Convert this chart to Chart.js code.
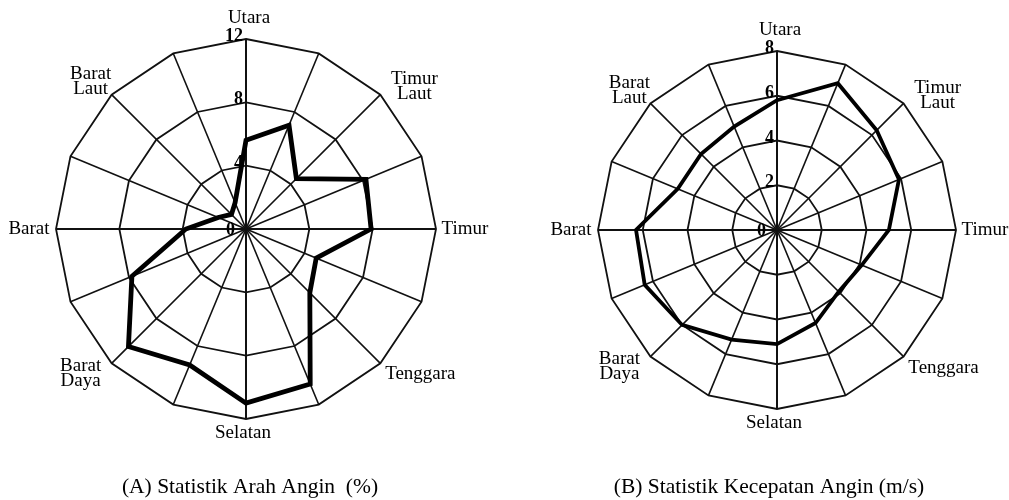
<!DOCTYPE html>
<html>
<head>
<meta charset="utf-8">
<script src="https://cdn.jsdelivr.net/npm/chart.js@4.4.1/dist/chart.umd.min.js"></script>
<style>
    body { margin: 0; background: #fff; }
    #wrap { position: relative; width: 1009px; height: 500px; overflow: hidden; background: #fff; }
    canvas { position: absolute; top: 0; }
    #chartA { left: 0; }
    #chartB { left: 505px; }
</style>
</head>
<body>
<div id="wrap">
    <canvas id="chartA" width="505" height="500"></canvas>
    <canvas id="chartB" width="504" height="500"></canvas>
</div>
<script>
// 16 compass directions, clockwise from north (only the 8 main ones are named)
const directionLabels = ['Utara', '', ['Timur', 'Laut'], '', 'Timur', '', 'Tenggara', '',
    'Selatan', '', ['Barat', 'Daya'], '', 'Barat', '', ['Barat', 'Laut'], ''];

// (A) wind direction frequency (%)
const arahAngin = [5.6, 7.1, 4.5, 8.2, 7.9, 4.8, 5.7, 10.6, 11.0, 9.3, 10.5, 7.8, 3.8, 1.9, 1.3, 1.8];
const ticksA = [0, 4, 8, 12];

// (B) wind speed (m/s)
const kecepatanAngin = [5.8, 7.1, 6.3, 5.9, 5.0, 4.1, 3.9, 4.5, 5.1, 5.3, 6.0, 6.4, 6.3, 4.8, 4.8, 5.0];
const ticksB = [0, 2, 4, 6, 8];

const captions = ['(A) Statistik Arah Angin  (%)', '(B) Statistik Kecepatan Angin (m/s)'];

const SERIF = '"Liberation Serif", "DejaVu Serif", serif';
const INK = '#111';

// compass labels, value ticks on the north spoke and the caption underneath
const roseText = {
    id: 'roseText',
    afterDraw(chart, args, opts) {
        const ctx = chart.ctx;
        const r = chart.scales.r;
        // nudge of each label from the end of its spoke
        const nudge = { 0: [3, -21], 2: [34, -8], 4: [29, 0], 6: [40, 11],
                        8: [-3, 14], 10: [-31, 10], 12: [-27, 0], 14: [-21, -13] };
        ctx.save();
        ctx.fillStyle = '#000';
        ctx.textAlign = 'center';
        ctx.textBaseline = 'middle';
        ctx.font = '19px ' + SERIF;
        directionLabels.forEach((label, i) => {
            if (!label) return;
            const end = r.getPointPosition(i, r.drawingArea);
            const [dx, dy] = nudge[i];
            const lines = Array.isArray(label) ? label : [label];
            lines.forEach((line, k) => {
                ctx.fillText(line, end.x + dx, end.y + dy + (k - (lines.length - 1) / 2) * 15);
            });
        });

        ctx.font = 'bold 18px ' + SERIF;
        ctx.textAlign = 'right';
        r.ticks.forEach(t => {
            if (t.value === 0) {
                ctx.textBaseline = 'middle';
                ctx.fillText('0', r.xCenter - 11, r.yCenter + 1);
            } else {
                ctx.textBaseline = 'alphabetic';
                ctx.fillText(String(t.value), r.xCenter - 3, r.yCenter - r.getDistanceFromCenterForValue(t.value) + 2);
            }
        });

        ctx.font = '21.5px ' + SERIF;
        ctx.textAlign = 'center';
        ctx.textBaseline = 'alphabetic';
        ctx.fillText(opts.caption, opts.captionX, 493);
        ctx.restore();
    }
};

function makeRose(id, values, ticks, width, pad, caption, captionX) {
    return new Chart(document.getElementById(id), {
        type: 'radar',
        data: {
            labels: directionLabels,
            datasets: [{
                data: values,
                borderColor: '#000',
                borderWidth: width,
                borderJoinStyle: 'miter',
                pointRadius: 0,
                fill: false,
                tension: 0
            }]
        },
        options: {
            responsive: false,
            devicePixelRatio: 1,
            animation: false,
            layout: { padding: pad },
            plugins: {
                legend: { display: false },
                tooltip: { enabled: false },
                roseText: { caption: caption, captionX: captionX }
            },
            scales: {
                r: {
                    min: ticks[0],
                    max: ticks[ticks.length - 1],
                    ticks: { stepSize: ticks[1] - ticks[0], display: false },
                    pointLabels: { display: false },
                    grid: { circular: false, color: INK, lineWidth: 1.8 },
                    angleLines: {
                        color: INK,
                        lineWidth: c => (c.index % 4 === 0 ? 2 : 1.6)
                    }
                }
            }
        },
        plugins: [roseText]
    });
}

makeRose('chartA', arahAngin, ticksA, 4.8, { left: 56, right: 69, top: 39, bottom: 81 }, captions[0], 250);
makeRose('chartB', kecepatanAngin, ticksB, 3.8, { left: 93, right: 53, top: 51, bottom: 91 }, captions[1], 264);
</script>
</body>
</html>
